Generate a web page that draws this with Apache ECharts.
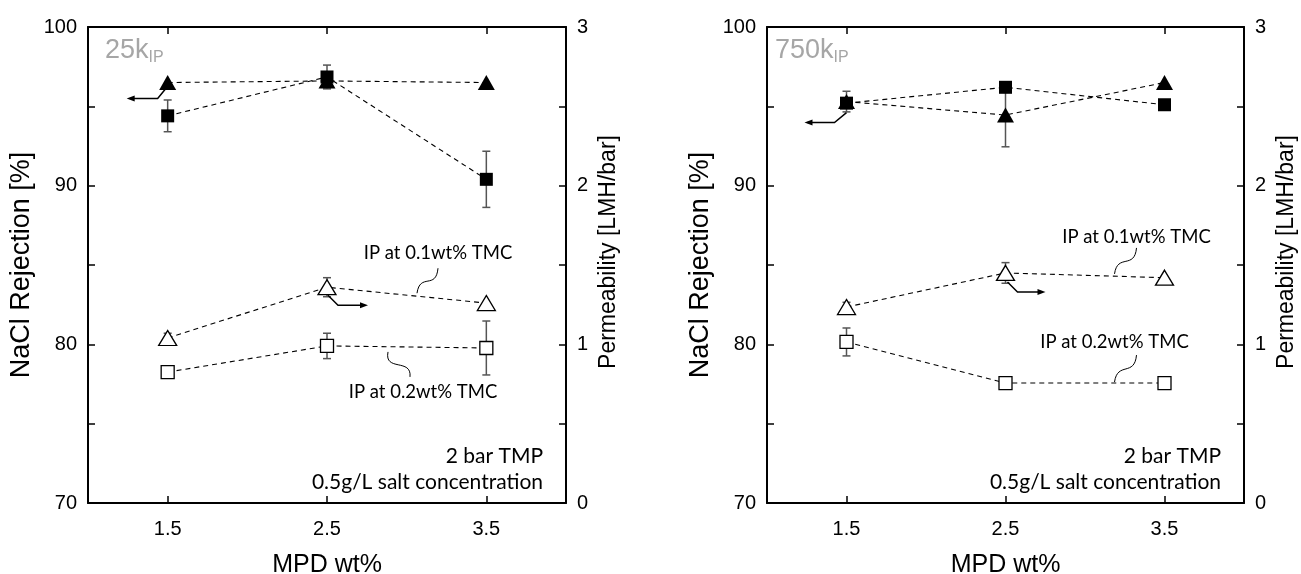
<!DOCTYPE html>
<html>
<head>
<meta charset="utf-8">
<script src="https://cdn.jsdelivr.net/npm/echarts@6/dist/echarts.min.js"></script>
<style>
  html, body { margin: 0; padding: 0; background: #fff; }
  #c { width: 1301px; height: 574px; }
</style>
</head>
<body>
<div id="c"></div>
<script>
// MPD concentration (wt%) used for every series
const mpd = [1.5, 2.5, 3.5];

// 25k support – NaCl rejection (%) and permeability (LMH/bar)
const rej25Tri = [96.5, 96.6, 96.5];      // 0.1wt% TMC
const rej25TriErr = [0, 0, 0];
const rej25Sq = [94.4, 96.85, 90.4];      // 0.2wt% TMC
const rej25SqErr = [1.0, 0.75, 1.77];
const perm25Tri = [1.04, 1.36, 1.26];
const perm25TriErr = [0.03, 0.06, 0];
const perm25Sq = [0.825, 0.99, 0.977];
const perm25SqErr = [0.02, 0.08, 0.17];

// 750k support
const rej750Tri = [95.3, 94.45, 96.5];
const rej750TriErr = [0.65, 2.0, 0];
const rej750Sq = [95.2, 96.2, 95.1];
const rej750SqErr = [0, 0, 0];
const perm750Tri = [1.235, 1.45, 1.42];
const perm750TriErr = [0.03, 0.065, 0];
const perm750Sq = [1.015, 0.756, 0.756];
const perm750SqErr = [0.088, 0.02, 0];

const panelTitles = ['25k', '750k'];
const noteLines = ['2 bar TMP', '0.5g/L salt concentration'];
const tmcLabels = ['IP at 0.1wt% TMC', 'IP at 0.2wt% TMC'];

const AX_FONT = "'Liberation Sans', Arial, sans-serif";
const NOTE_FONT = "Lato, 'Open Sans', sans-serif";

const grids = [
  { left: 88, top: 27, width: 478, height: 476 },
  { left: 767, top: 27, width: 477, height: 476 }
];

const panels = [
  { rejTri: rej25Tri, rejTriErr: rej25TriErr, rejSq: rej25Sq, rejSqErr: rej25SqErr,
    permTri: perm25Tri, permTriErr: perm25TriErr, permSq: perm25Sq, permSqErr: perm25SqErr },
  { rejTri: rej750Tri, rejTriErr: rej750TriErr, rejSq: rej750Sq, rejSqErr: rej750SqErr,
    permTri: perm750Tri, permTriErr: perm750TriErr, permSq: perm750Sq, permSqErr: perm750SqErr }
];

const chart = echarts.init(document.getElementById('c'));

const xAxes = [], yAxes = [], series = [];

grids.forEach((g, gi) => {
  const lineStyle = { color: '#000', width: 2 };
  const tick = { inside: true, length: 7, lineStyle: { color: '#000', width: 1.5 } };
  xAxes.push({
    type: 'value', gridIndex: gi, min: 1, max: 4, position: 'bottom',
    axisLine: { show: true, onZero: false, lineStyle },
    axisTick: Object.assign({ customValues: mpd }, tick),
    axisLabel: { customValues: mpd, formatter: v => v.toFixed(1), color: '#000',
                 fontSize: 20, fontFamily: AX_FONT, margin: 16 },
    splitLine: { show: false },
    name: 'MPD wt%', nameLocation: 'middle', nameGap: 50,
    nameTextStyle: { color: '#000', fontSize: 25, fontFamily: AX_FONT }
  });
  xAxes.push({
    type: 'value', gridIndex: gi, min: 1, max: 4, position: 'top',
    axisLine: { show: true, onZero: false, lineStyle },
    axisTick: Object.assign({ customValues: mpd }, tick),
    axisLabel: { show: false }, splitLine: { show: false }
  });
  yAxes.push({
    type: 'value', gridIndex: gi, min: 70, max: 100, interval: 5, position: 'left',
    axisLine: { show: true, onZero: false, lineStyle },
    axisTick: tick,
    axisLabel: { formatter: v => (v % 10 === 0 ? String(v) : ''), color: '#000',
                 fontSize: 20, fontFamily: AX_FONT, margin: 11 },
    splitLine: { show: false },
    name: 'NaCl Rejection [%]', nameLocation: 'middle', nameGap: 53, nameRotate: 90,
    nameTextStyle: { color: '#000', fontSize: 27, fontFamily: AX_FONT }
  });
  yAxes.push({
    type: 'value', gridIndex: gi, min: 0, max: 3, interval: 0.5, position: 'right',
    axisLine: { show: true, onZero: false, lineStyle },
    axisTick: tick,
    axisLabel: { formatter: v => (Number.isInteger(v) ? String(v) : ''), color: '#000',
                 fontSize: 20, fontFamily: AX_FONT, margin: 11 },
    splitLine: { show: false },
    name: 'Permeability [LMH/bar]', nameLocation: 'middle', nameGap: 31, nameRotate: 90,
    nameTextStyle: { color: '#000', fontSize: 23, fontFamily: AX_FONT, padding: [0, 0, 0, 26] }
  });

  const p = panels[gi];
  const xi = gi * 2, yRej = gi * 2, yPerm = gi * 2 + 1;

  // error bars
  const errBars = (vals, errs, yi) => ({
    type: 'custom', xAxisIndex: xi, yAxisIndex: yi, z: 2, silent: true,
    encode: { x: 0, y: 1 },
    data: mpd.map((x, i) => [x, vals[i], errs[i]]).filter(d => d[2] > 0),
    renderItem(params, api) {
      const x = api.value(0), y = api.value(1), e = api.value(2);
      const t = api.coord([x, y + e]), b = api.coord([x, y - e]);
      const w = 4, st = { stroke: '#555', lineWidth: 1.5 };
      return { type: 'group', children: [
        { type: 'line', shape: { x1: t[0], y1: t[1], x2: b[0], y2: b[1] }, style: st },
        { type: 'line', shape: { x1: t[0] - w, y1: t[1], x2: t[0] + w, y2: t[1] }, style: st },
        { type: 'line', shape: { x1: b[0] - w, y1: b[1], x2: b[0] + w, y2: b[1] }, style: st }
      ] };
    }
  });
  series.push(errBars(p.rejTri, p.rejTriErr, yRej));
  series.push(errBars(p.rejSq, p.rejSqErr, yRej));
  series.push(errBars(p.permTri, p.permTriErr, yPerm));
  series.push(errBars(p.permSq, p.permSqErr, yPerm));

  const dashed = { color: '#000', width: 1.1, type: [5, 4] };
  const mk = (vals, yi, symbol, size, filled) => ({
    type: 'line', xAxisIndex: xi, yAxisIndex: yi, z: 3, silent: true,
    data: mpd.map((x, i) => [x, vals[i]]),
    symbol, symbolSize: size, showSymbol: true,
    lineStyle: dashed,
    itemStyle: filled ? { color: '#000', borderColor: '#000', borderWidth: 0 }
                      : { color: '#fff', borderColor: '#000', borderWidth: 1.3 }
  });
  series.push(mk(p.rejTri, yRej, 'triangle', [17, 15], true));
  series.push(mk(p.rejSq, yRej, 'rect', 13, true));
  series.push(mk(p.permTri, yPerm, 'triangle', [18, 15], false));
  series.push(mk(p.permSq, yPerm, 'rect', 13, false));
});

chart.setOption({
  animation: false,
  backgroundColor: '#fff',
  grid: grids.map(g => Object.assign({ containLabel: false, outerBoundsMode: 'none' }, g)),
  xAxis: xAxes,
  yAxis: yAxes,
  series
});

// ---- annotations: arrows, leader squiggles and notes ----
const toPx = (gi, perm, x, y) =>
  chart.convertToPixel({ xAxisIndex: gi * 2, yAxisIndex: gi * 2 + (perm ? 1 : 0) }, [x, y]);

// pixel offsets relative to an anchor data point
const annot = [
  { rejArrow: [[-1, 5], [-10, 16], [-38, 16]],
    permArrow: [[1, 8], [11, 18], [38, 18]],
    lab1: { text: [111, -34], curve: [[90, 6], [93, -15], [109, 3], [111, -19]] },
    lab2: { text: [96, 46], curve: [[61, 6], [57, 26], [85, 12], [83, 31]] },
    titleDx: 17 },
  { rejArrow: [[0, 11], [-12, 21], [-39, 21]],
    permArrow: [[2, 9], [12, 19], [37, 19]],
    lab1: { text: [131, -36], curve: [[109, 1], [112, -20], [129, -3], [131, -25]] },
    lab2: { text: [109, -41], curve: [[109, -1], [112, -22], [129, -6], [131, -28]] },
    titleDx: 8 }
];

const graphics = [];
function arrow(anchor, pts, dir) {
  const P = pts.map(o => [anchor[0] + o[0], anchor[1] + o[1]]);
  graphics.push({ type: 'polyline', silent: true, z: 10,
    shape: { points: P }, style: { stroke: '#000', lineWidth: 1.5, fill: null } });
  const e = P[P.length - 1], s = dir;
  graphics.push({ type: 'polygon', silent: true, z: 10,
    shape: { points: [[e[0] + s * 3, e[1]], [e[0] - s * 5, e[1] - 3], [e[0] - s * 5, e[1] + 3]] },
    style: { fill: '#000' } });
}
function squiggle(anchor, c) {
  const q = c.map(o => [anchor[0] + o[0], anchor[1] + o[1]]);
  graphics.push({ type: 'bezierCurve', silent: true, z: 10,
    shape: { x1: q[0][0], y1: q[0][1], cpx1: q[1][0], cpy1: q[1][1],
             cpx2: q[2][0], cpy2: q[2][1], x2: q[3][0], y2: q[3][1] },
    style: { stroke: '#000', lineWidth: 1, fill: null } });
}
function note(x, y, text, align, size) {
  graphics.push({ type: 'text', silent: true, z: 10, x, y,
    style: { text, fill: '#000', font: size + "px " + NOTE_FONT,
             textAlign: align, textVerticalAlign: 'middle' } });
}

grids.forEach((g, gi) => {
  const p = panels[gi], a = annot[gi];
  const rejA = toPx(gi, false, mpd[0], p.rejTri[0]);
  const triA = toPx(gi, true, mpd[1], p.permTri[1]);
  const sqA = toPx(gi, true, mpd[1], p.permSq[1]);
  arrow(rejA, a.rejArrow, -1);
  arrow(triA, a.permArrow, 1);
  squiggle(triA, a.lab1.curve);
  squiggle(sqA, a.lab2.curve);
  note(triA[0] + a.lab1.text[0], triA[1] + a.lab1.text[1], tmcLabels[0], 'center', 18.5);
  note(sqA[0] + a.lab2.text[0], sqA[1] + a.lab2.text[1], tmcLabels[1], 'center', 18.5);
  const right = g.left + g.width - 23, bottom = g.top + g.height;
  note(right, bottom - 47, noteLines[0], 'right', 21);
  note(right, bottom - 21, noteLines[1], 'right', 21);
  graphics.push({ type: 'text', silent: true, z: 10, x: g.left + a.titleDx, y: g.top + 9,
    style: {
      text: '{a|' + panelTitles[gi] + '}{b|IP}',
      textVerticalAlign: 'top',
      rich: {
        a: { fontSize: 27, lineHeight: 30, fontFamily: AX_FONT, fill: '#a6a6a6', color: '#a6a6a6' },
        b: { fontSize: 16, lineHeight: 16, verticalAlign: 'bottom', fontFamily: AX_FONT, fill: '#a6a6a6', color: '#a6a6a6' }
      }
    } });
});

chart.setOption({ graphic: { elements: graphics } });
</script>
</body>
</html>
